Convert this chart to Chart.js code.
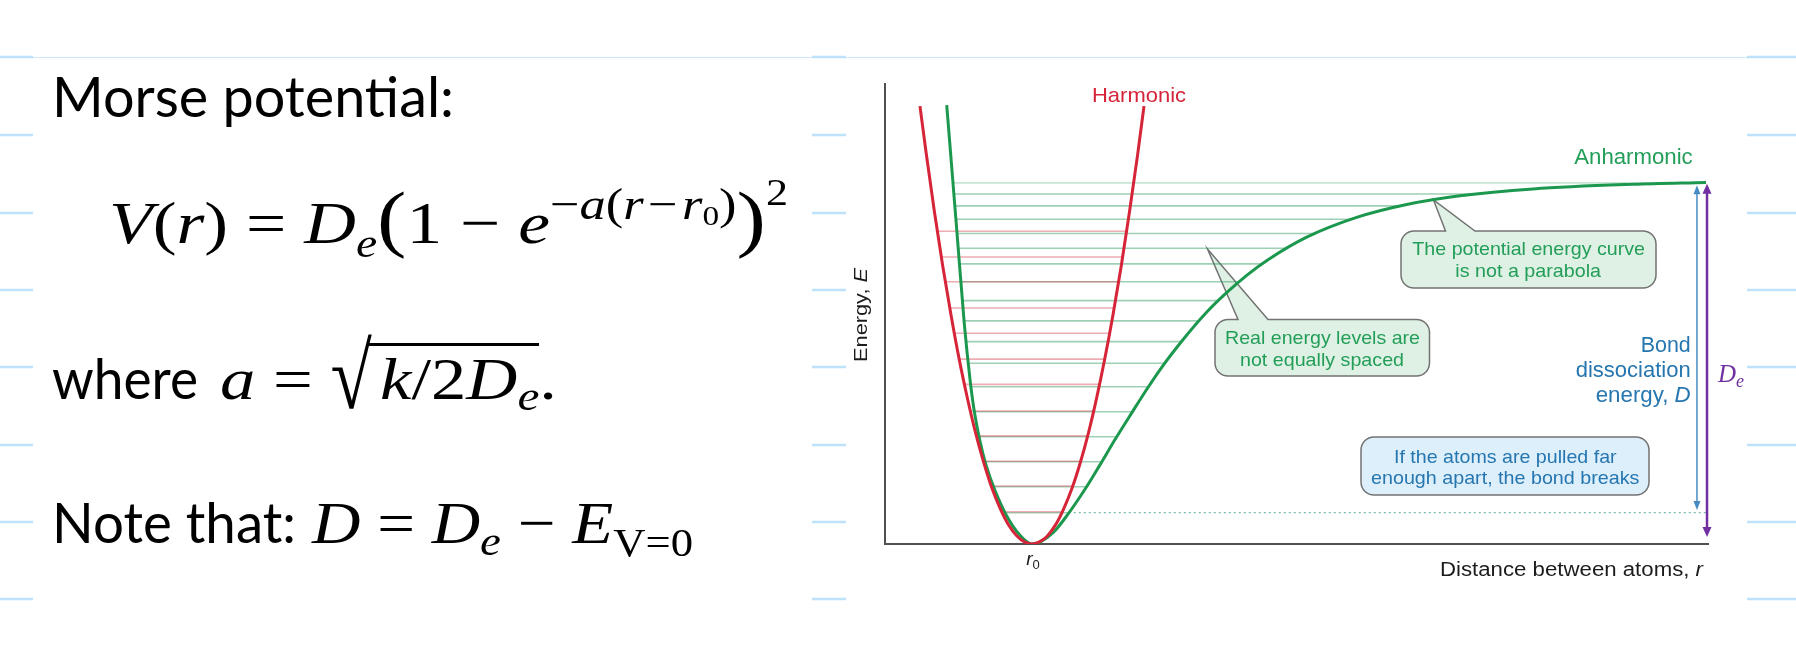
<!DOCTYPE html>
<html><head><meta charset="utf-8">
<script src="https://cdn.jsdelivr.net/npm/chart.js@4.4.1/dist/chart.umd.min.js"></script>
<style>
html,body{margin:0;padding:0;background:#fff;width:1796px;height:664px;overflow:hidden;}
#c{position:absolute;left:0;top:0;}
.ln{position:absolute;left:0;top:0;white-space:nowrap;transform-origin:0 0;color:#000;line-height:1;}
.cal{font-family:Lato,"Open Sans",sans-serif;}
.m{font-family:"Liberation Serif","DejaVu Serif",serif;}
.ln i{font-style:italic;}
.bl{display:inline-block;width:0;height:0;vertical-align:baseline;}
.s{position:relative;line-height:0;vertical-align:baseline;}
.ov{border-top:3px solid #000;padding-left:10px;margin-left:-3px;}
.rad{display:inline-block;line-height:1;transform-origin:50% 100%;position:relative;}
</style></head><body>
<canvas id="c" width="1796" height="664"></canvas>

<div class="ln" id="L1"><span class="in cal" style="font-size:56px">Morse potential:<span class="bl"></span></span></div>
<div class="ln" id="L2"><span class="in m" style="font-size:60px"><i>V</i>(<i>r</i>) = <i>D</i><span class="s" style="font-size:40px;top:14px"><i>e</i></span><span style="font-size:74px">(</span>1 − <i>e</i><span class="s" style="font-size:44px;top:-24px">−<i>a</i>(<i>r</i>&#8202;−&#8202;<i>r</i><span class="s" style="font-size:28px;top:6px">0</span>)</span><span style="font-size:74px">)</span><span class="s" style="font-size:37px;top:-38px">2</span><span class="bl"></span></span></div>
<div class="ln" id="L3a"><span class="in cal" style="font-size:57px">where<span class="bl"></span></span></div>
<div class="ln" id="L3b"><span class="in m" style="font-size:60px"><i>a</i> = <span class="rad" style="font-size:64px;transform:scaleY(1.45);top:14px">√</span><span class="ov"><i>k</i>/2<i>D</i><span class="s" style="font-size:42px;top:11px"><i>e</i></span></span>.<span class="bl"></span></span></div>
<div class="ln" id="L4a"><span class="in cal" style="font-size:57px">Note that:<span class="bl"></span></span></div>
<div class="ln" id="L4b"><span class="in m" style="font-size:60px"><i>D</i> = <i>D</i><span class="s" style="font-size:42px;top:12px"><i>e</i></span> − <i>E</i><span class="s" style="font-size:40px;top:13px">V=0</span><span class="bl"></span></span></div>

<script>
// ---------------- data ----------------
// energy axis: 0 = bottom of the well, 100 = top of the drawn axis; r axis: 0..100
const harmonicR = [4.25, 5, 6, 7, 8, 9, 10, 11, 12, 13, 14, 15, 16, 17, 17.86, 18.7, 19.7, 20.7, 21.7, 22.7, 23.7, 24.7, 25.7, 26.7, 27.7, 28.7, 29.7, 30.7, 31.47];
const harmonicE = [95.2, 85.0, 72.3, 60.6, 50.0, 40.3, 31.8, 24.2, 17.7, 12.1, 7.7, 4.2, 1.8, 0.4, 0, 0.4, 1.7, 4.1, 7.6, 12.0, 17.5, 24.0, 31.6, 40.2, 49.8, 60.4, 72.1, 84.7, 95.2];

const anharmonicR = [7.50, 8.71, 9.64, 10.33, 10.81, 11.54, 12.27, 13.37, 14.79, 16.40, 17.86, 18.83, 20.45, 21.87, 24.30, 26.12, 27.95, 29.98, 31.83, 33.54, 36.25, 38.88, 41.31, 43.95, 46.54, 51.24, 57.31, 63.39, 69.87, 78.74, 90.89, 99.76];
const anharmonicE = [95.4, 68.5, 47.8, 35.8, 29.3, 22.4, 17.2, 11.6, 6.1, 1.9, 0, 0.4, 2.5, 5.6, 11.9, 17.2, 22.7, 28.5, 33.7, 38.2, 44.5, 50.0, 54.3, 58.4, 61.8, 66.7, 71.0, 73.8, 75.7, 77.2, 78.2, 78.6];

const harmonicLevels = [7.0, 12.6, 18.0, 23.5, 28.9, 34.7, 40.2, 45.8, 51.3, 57.0, 62.4, 68.0];
const anharmonicLevels = [6.8, 12.46, 17.89, 23.33, 28.76, 34.2, 39.3, 44.0, 48.5, 52.9, 57.0, 60.9, 64.3, 67.5, 70.6, 73.5, 76.1, 78.5];

const r0 = 17.86;                 // equilibrium distance
const dottedEndR = [99.76];       // dotted D-level line ends here
const arrowR = [98.66, 99.88];    // D arrow, De arrow
const bondArrowE = [7.4, 78.0];   // D  (from v=0 level to dissociation)
const wellArrowE = [1.5, 78.3];   // De (from well bottom to dissociation)
const xTickLabels = ['r', '0'];   // r with subscript 0 at r0

// ---------------- helpers ----------------
const RED = 'rgb(214,36,56)';
const GREEN = 'rgb(28,152,78)';
const TXTGREEN = 'rgb(34,158,88)';
const BLUE = 'rgb(38,118,176)';
const PURPLE = 'rgb(112,48,160)';

function crossings(R, E, level) {
  let iMin = 0;
  for (let i = 1; i < E.length; i++) if (E[i] < E[iMin]) iMin = i;
  let left = null, right = null;
  for (let i = 0; i < iMin; i++) {
    if ((E[i] - level) * (E[i + 1] - level) <= 0) { left = R[i] + (level - E[i]) / (E[i + 1] - E[i]) * (R[i + 1] - R[i]); break; }
  }
  for (let i = iMin; i < R.length - 1; i++) {
    if ((E[i] - level) * (E[i + 1] - level) <= 0) { right = R[i] + (level - E[i]) / (E[i + 1] - E[i]) * (R[i + 1] - R[i]); break; }
  }
  if (left === null) left = R[0];
  if (right === null) right = R[R.length - 1];
  return [left, right];
}

const datasets = [];
datasets.push({ label: 'Harmonic', data: harmonicR.map((r, i) => ({ x: r, y: harmonicE[i] })), borderColor: RED, borderWidth: 3, showLine: true, pointRadius: 0, cubicInterpolationMode: 'monotone', order: 0 });
datasets.push({ label: 'Anharmonic', data: anharmonicR.map((r, i) => ({ x: r, y: anharmonicE[i] })), borderColor: GREEN, borderWidth: 3, showLine: true, pointRadius: 0, cubicInterpolationMode: 'monotone', order: 1 });
harmonicLevels.forEach(E => {
  const [a, b] = crossings(harmonicR, harmonicE, E);
  datasets.push({ data: [{ x: a, y: E }, { x: b, y: E }], borderColor: 'rgba(215,60,75,0.42)', borderWidth: 1.6, showLine: true, pointRadius: 0, order: 2 });
});
anharmonicLevels.forEach((E, i) => {
  const [a, b] = crossings(anharmonicR, anharmonicE, E);
  const top = i === anharmonicLevels.length - 1;
  datasets.push({ data: [{ x: a, y: E }, { x: b, y: E }], borderColor: top ? 'rgba(40,150,90,0.25)' : 'rgba(40,150,90,0.45)', borderWidth: 1.6, showLine: true, pointRadius: 0, order: 3 });
});
{
  const E0 = anharmonicLevels[0];
  const [, b] = crossings(anharmonicR, anharmonicE, E0);
  datasets.push({ data: [{ x: b, y: E0 }, { x: dottedEndR[0], y: E0 }], borderColor: 'rgba(110,180,170,0.9)', borderWidth: 1.3, borderDash: [2, 3], showLine: true, pointRadius: 0, order: 3 });
}

function drawRuns(ctx, parts, x, y, opt) {
  ctx.save();
  const ws = parts.map(p => { ctx.font = p[1]; return ctx.measureText(p[0]).width; });
  const total = ws.reduce((a, b) => a + b, 0);
  const s = opt.w ? opt.w / total : 1;
  const W = total * s;
  const x0 = opt.align === 'right' ? -W : opt.align === 'center' ? -W / 2 : 0;
  ctx.translate(x, y);
  if (opt.rot) ctx.rotate(opt.rot);
  ctx.translate(x0, 0);
  ctx.scale(s, 1);
  ctx.fillStyle = opt.color;
  ctx.textAlign = 'left';
  ctx.textBaseline = 'alphabetic';
  let cx = 0;
  parts.forEach((p, i) => { ctx.font = p[1]; ctx.fillText(p[0], cx, p[2] || 0); cx += ws[i]; });
  ctx.restore();
}

function callout(ctx, x1, y1, x2, y2, rad, fill, stroke, ptr) {
  ctx.save();
  ctx.beginPath();
  ctx.moveTo(x1 + rad, y1);
  if (ptr) { ctx.lineTo(ptr[0], y1); ctx.lineTo(ptr[2], ptr[3]); ctx.lineTo(ptr[1], y1); }
  ctx.lineTo(x2 - rad, y1);
  ctx.arcTo(x2, y1, x2, y1 + rad, rad);
  ctx.lineTo(x2, y2 - rad);
  ctx.arcTo(x2, y2, x2 - rad, y2, rad);
  ctx.lineTo(x1 + rad, y2);
  ctx.arcTo(x1, y2, x1, y2 - rad, rad);
  ctx.lineTo(x1, y1 + rad);
  ctx.arcTo(x1, y1, x1 + rad, y1, rad);
  ctx.closePath();
  ctx.fillStyle = fill; ctx.fill();
  ctx.lineWidth = 1.5; ctx.strokeStyle = stroke; ctx.stroke();
  ctx.restore();
}

function head(ctx, x, yTip, dir, w, h, color) {
  ctx.beginPath();
  ctx.moveTo(x, yTip);
  ctx.lineTo(x - w / 2, yTip + dir * h);
  ctx.lineTo(x + w / 2, yTip + dir * h);
  ctx.closePath();
  ctx.fillStyle = color; ctx.fill();
}

function arrow(ctx, x, yTop, yBot, color, lw, w, h) {
  ctx.save();
  ctx.strokeStyle = color; ctx.lineWidth = lw;
  ctx.beginPath(); ctx.moveTo(x, yTop + h - 1); ctx.lineTo(x, yBot - h + 1); ctx.stroke();
  head(ctx, x, yTop, 1, w, h, color);
  head(ctx, x, yBot, -1, w, h, color);
  ctx.restore();
}

const SANS = '"Liberation Sans", Arial, sans-serif';
const SERIF = '"Liberation Serif", "DejaVu Serif", serif';

const decor = {
  id: 'decor',
  beforeDraw(chart) {
    const ctx = chart.ctx;
    ctx.save();
    ctx.strokeStyle = 'rgb(205,232,250)'; ctx.lineWidth = 1;
    ctx.beginPath(); ctx.moveTo(0, 57.5); ctx.lineTo(1796, 57.5); ctx.stroke();
    ctx.strokeStyle = 'rgb(190,226,250)'; ctx.lineWidth = 2.5;
    [57, 135, 213, 290, 367, 445, 522, 599].forEach(y => {
      [[0, 33], [812, 846], [1747, 1796]].forEach(([a, b]) => { ctx.beginPath(); ctx.moveTo(a, y); ctx.lineTo(b, y); ctx.stroke(); });
    });
    ctx.restore();
  },
  beforeDatasetsDraw(chart) {
    const ctx = chart.ctx;
    const fillG = 'rgb(222,241,228)', fillB = 'rgb(221,239,251)', edge = 'rgb(115,115,115)';
    callout(ctx, 1215, 319.5, 1429.5, 376, 13, fillG, edge, [1238, 1268, 1207.5, 249]);
    callout(ctx, 1401, 231, 1656, 288, 13, fillG, edge, [1445.5, 1475, 1433.5, 200]);
    callout(ctx, 1361, 437, 1649, 495, 13, fillB, edge, null);
    const f19 = '19px ' + SANS;
    drawRuns(ctx, [['Real energy levels are', f19]], 1322.5, 344, { w: 195, align: 'center', color: TXTGREEN });
    drawRuns(ctx, [['not equally spaced', f19]], 1322, 366, { w: 164, align: 'center', color: TXTGREEN });
    drawRuns(ctx, [['The potential energy curve', f19]], 1528.7, 255, { w: 232.7, align: 'center', color: TXTGREEN });
    drawRuns(ctx, [['is not a parabola', f19]], 1528.2, 277.3, { w: 145.7, align: 'center', color: TXTGREEN });
    drawRuns(ctx, [['If the atoms are pulled far', f19]], 1505.3, 463.3, { w: 222.7, align: 'center', color: BLUE });
    drawRuns(ctx, [['enough apart, the bond breaks', f19]], 1505.2, 484, { w: 268.3, align: 'center', color: BLUE });
  },
  afterDatasetsDraw(chart) {
    const ctx = chart.ctx;
    const xs = chart.scales.x, ys = chart.scales.y;
    arrow(ctx, xs.getPixelForValue(arrowR[0]), ys.getPixelForValue(bondArrowE[1]), ys.getPixelForValue(bondArrowE[0]), 'rgb(70,140,195)', 1.5, 7, 9);
    arrow(ctx, xs.getPixelForValue(arrowR[1]), ys.getPixelForValue(wellArrowE[1]), ys.getPixelForValue(wellArrowE[0]), PURPLE, 2.5, 9, 10);
    drawRuns(ctx, [['Harmonic', '21px ' + SANS]], 1139, 101.5, { w: 94, align: 'center', color: RED });
    drawRuns(ctx, [['Anharmonic', '22px ' + SANS]], 1574.3, 164.3, { w: 118.4, align: 'left', color: TXTGREEN });
    drawRuns(ctx, [['Bond', '22px ' + SANS]], 1690.7, 351.7, { w: 50, align: 'right', color: BLUE });
    drawRuns(ctx, [['dissociation', '22px ' + SANS]], 1690.7, 376.5, { w: 115, align: 'right', color: BLUE });
    drawRuns(ctx, [['energy, ', '22px ' + SANS], ['D', 'italic 22px ' + SANS]], 1690.7, 401.5, { w: 95, align: 'right', color: BLUE });
    drawRuns(ctx, [['Distance between atoms, ', '20px ' + SANS], ['r', 'italic 20px ' + SANS]], 1440, 576, { w: 263, align: 'left', color: '#1c1c1c' });
    drawRuns(ctx, [['Energy, ', '18px ' + SANS], ['E', 'italic 18px ' + SANS]], 867, 315, { w: 94, align: 'center', color: '#1c1c1c', rot: -Math.PI / 2 });
    drawRuns(ctx, [[xTickLabels[0], 'italic 19px ' + SANS], [xTickLabels[1], '13px ' + SANS, 4]], xs.getPixelForValue(r0) + 1, 565, { align: 'center', color: '#1c1c1c' });
    drawRuns(ctx, [['D', 'italic 25px ' + SERIF], ['e', 'italic 18px ' + SERIF, 5]], 1718, 382, { align: 'left', color: PURPLE });
  }
};

new Chart(document.getElementById('c').getContext('2d'), {
  type: 'scatter',
  data: { datasets },
  options: {
    responsive: false,
    animation: false,
    events: [],
    layout: { padding: { left: 885, top: 84, right: 88, bottom: 120 } },
    plugins: { legend: { display: false }, tooltip: { enabled: false } },
    scales: {
      x: { type: 'linear', min: 0, max: 100, grid: { display: false, drawTicks: false }, ticks: { display: false }, border: { display: true, color: '#505050', width: 2 }, afterFit(s) { s.height = 0; } },
      y: { type: 'linear', min: 0, max: 100, grid: { display: false, drawTicks: false }, ticks: { display: false }, border: { display: true, color: '#505050', width: 2 }, afterFit(s) { s.width = 0; } }
    }
  },
  plugins: [decor]
});

// ---------------- left-hand text placement ----------------
function fit(id, L, R, B) {
  const d = document.getElementById(id);
  d.style.transform = 'none'; d.style.left = '0px'; d.style.top = '0px';
  const inn = d.querySelector('.in');
  const bl = d.querySelector('.bl');
  const ri = inn.getBoundingClientRect();
  const rb = bl.getBoundingClientRect();
  const s = (R - L) / ri.width;
  d.style.left = (L - ri.left * s) + 'px';
  d.style.top = (B - rb.top) + 'px';
  d.style.transform = 'scaleX(' + s + ')';
}
function layoutText() {
  fit('L1', 52, 454, 117);
  fit('L2', 109, 788, 243);
  fit('L3a', 52, 198, 399);
  fit('L3b', 220, 557, 399);
  fit('L4a', 52, 296, 543);
  fit('L4b', 312, 693, 543);
}
layoutText();
if (document.fonts && document.fonts.ready) document.fonts.ready.then(layoutText);
</script>
</body></html>
